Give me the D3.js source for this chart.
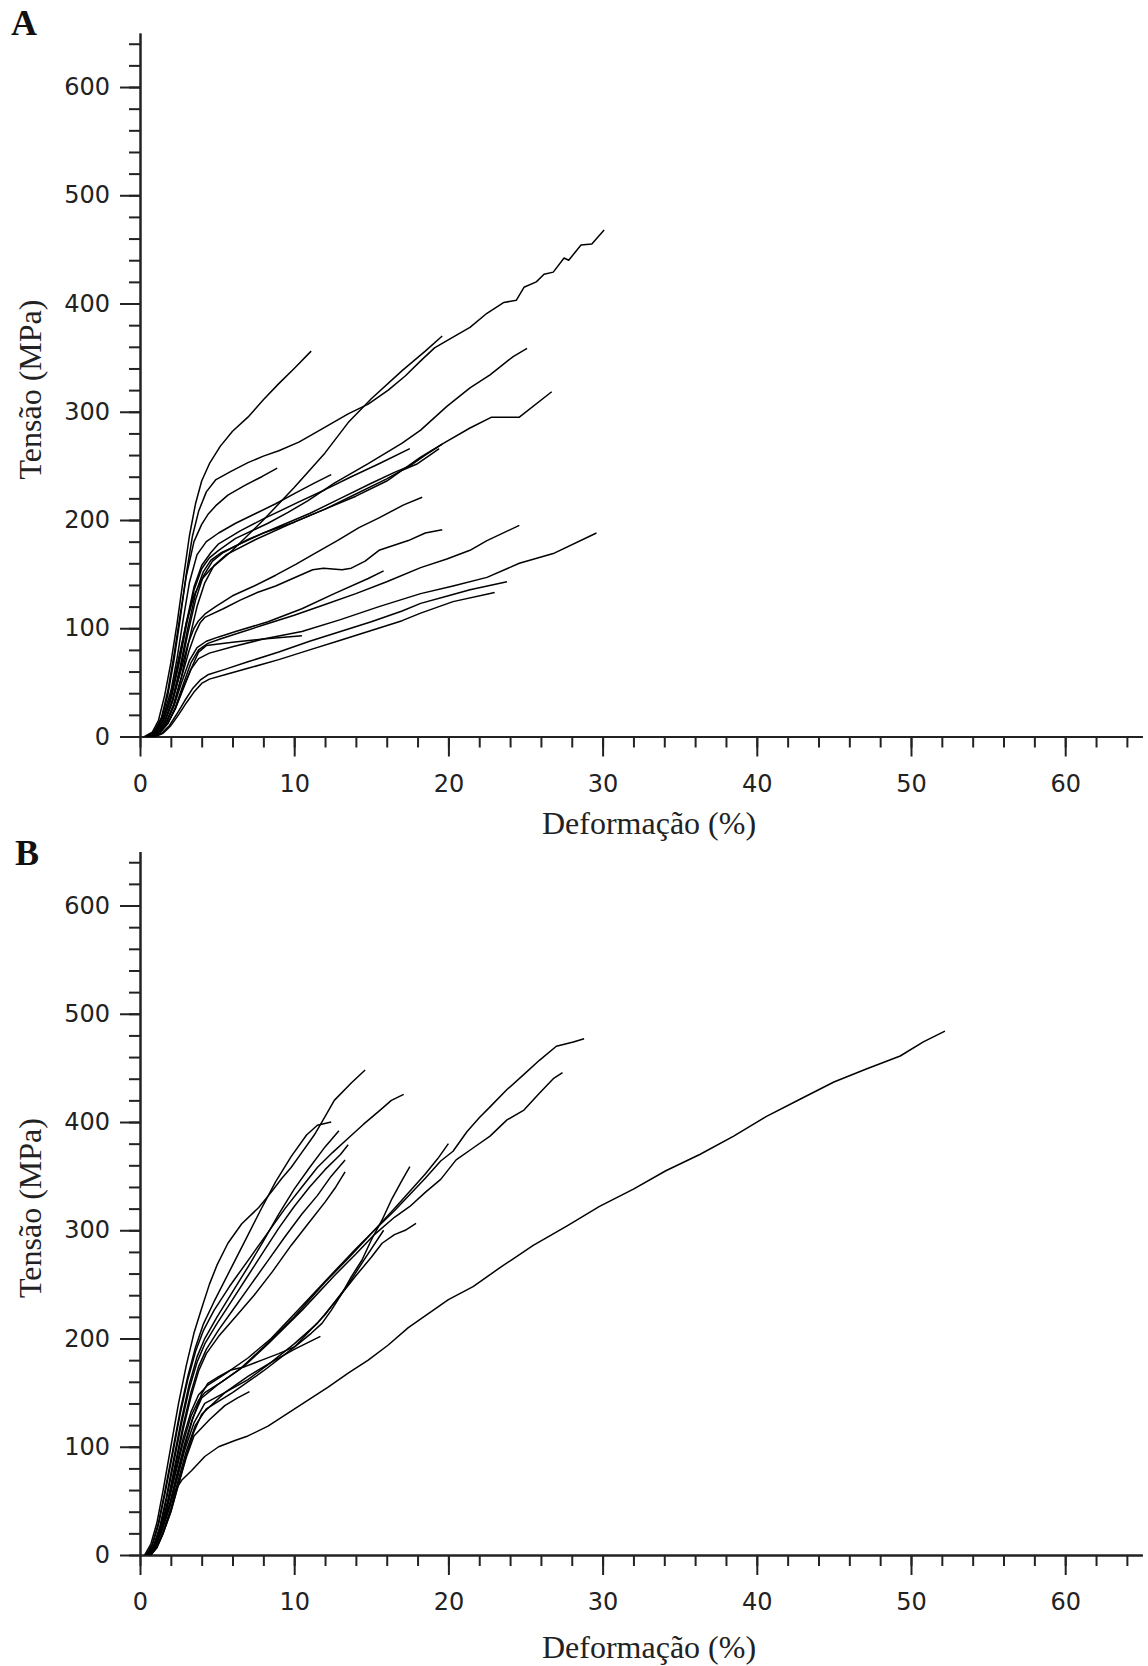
<!DOCTYPE html>
<html>
<head>
<meta charset="utf-8">
<script src="https://cdn.jsdelivr.net/npm/d3@7"></script>
<style>
  body { margin: 0; background: #fff; }
  svg { display: block; }
  .tick text { font-family: "DejaVu Sans", sans-serif; font-size: 24px; fill: #222; }
  .domain, .tick line { stroke: #222; stroke-width: 2; }
</style>
</head>
<body>
<div id="chart"></div>
<script>
// strain (%) , stress (MPa)
const curvesA = [
  [[0.3,0],[0.8,4],[1.2,15],[1.6,38],[2.0,68],[2.4,104],[2.8,145],[3.2,185],[3.6,215],[4.0,236],[4.5,252],[5.2,268],[6.0,282],[7.0,295],[8.0,311],[9.0,326],[10.0,340],[11.1,356]],
  [[0.4,0],[0.9,4],[1.4,16],[1.8,38],[2.2,70],[2.6,108],[3.0,150],[3.4,185],[3.8,208],[4.3,226],[4.9,237],[5.9,245],[7.0,253],[8.0,259],[9.0,264],[10.3,272],[11.3,280],[12.4,289],[13.5,298],[14.8,307],[16.1,320],[17.2,333],[18.2,347],[19.1,359],[20.3,369],[21.4,378],[22.5,391],[23.6,401],[24.4,403],[24.9,415],[25.7,420],[26.2,427],[26.8,429],[27.5,442],[27.8,440],[28.6,454],[29.3,455],[30.1,468]],
  [[0.5,0],[1.0,4],[1.5,15],[2.0,38],[2.5,72],[3.0,105],[3.5,130],[4.0,145],[4.6,155],[6.0,172],[8.0,200],[10.0,230],[12.0,262],[13.5,290],[15.0,312],[17.0,338],[18.5,356],[19.6,370]],
  [[0.4,0],[0.9,4],[1.4,18],[1.8,42],[2.2,75],[2.6,112],[3.0,148],[3.5,180],[4.0,196],[4.4,205],[4.9,213],[5.7,223],[6.8,232],[7.9,240],[8.9,248]],
  [[0.5,0],[1.0,5],[1.5,18],[2.0,42],[2.4,72],[2.8,108],[3.2,142],[3.7,168],[4.3,180],[5.1,188],[6.2,197],[7.5,206],[8.8,215],[10.1,225],[11.3,234],[12.4,242]],
  [[0.5,0],[1.0,4],[1.5,14],[2.0,34],[2.5,65],[3.0,102],[3.5,135],[4.0,155],[4.5,165],[5.1,172],[6.2,183],[8.3,197],[9.6,207],[10.9,218],[12.6,234],[14.8,252],[17.0,271],[18.2,283],[19.9,305],[21.4,322],[22.7,334],[24.2,351],[25.1,358.6]],
  [[0.6,0],[1.1,4],[1.6,14],[2.1,34],[2.6,64],[3.1,100],[3.6,132],[4.1,152],[4.6,163],[5.3,170],[6.5,178],[8.0,188],[10.0,198],[12.0,210],[14.0,222],[16.0,236],[18.2,258],[19.7,271],[21.4,285],[22.8,295],[24.6,295],[26.7,318.5]],
  [[0.5,0],[1.0,4],[1.5,15],[2.0,36],[2.5,68],[3.0,105],[3.5,138],[4.0,158],[4.6,170],[5.1,178],[6.5,190],[8.0,201],[10.2,216],[12.0,228],[13.7,240],[15.5,252],[17.5,266]],
  [[0.6,0],[1.1,4],[1.6,13],[2.1,32],[2.6,60],[3.1,95],[3.6,126],[4.1,148],[4.7,162],[5.4,170],[7.0,182],[9.0,194],[11.0,206],[13.0,220],[15.0,234],[16.5,244],[17.5,250],[18.5,260],[19.6,270]],
  [[0.7,0],[1.2,4],[1.7,13],[2.2,30],[2.7,56],[3.2,90],[3.7,120],[4.2,142],[4.8,158],[5.6,168],[7.5,182],[10.0,198],[12.0,210],[14.0,224],[16.0,238],[17.0,246],[18.0,252],[18.8,260],[19.4,266]],
  [[0.6,0],[1.1,4],[1.6,14],[2.1,32],[2.6,58],[3.1,85],[3.5,100],[3.8,107],[4.2,113],[4.9,120],[6.0,130],[7.4,139],[8.8,149],[10.1,159],[11.2,168],[12.8,181],[14.2,193],[15.5,202],[17.1,214],[18.3,221]],
  [[0.7,0],[1.2,4],[1.7,13],[2.2,30],[2.7,55],[3.2,80],[3.6,96],[3.9,105],[4.2,110],[5.4,118],[6.5,126],[7.6,133],[8.8,139],[9.9,146],[11.2,154],[11.9,155.5],[13.1,154],[13.7,155.5],[14.6,162],[15.5,172],[17.4,181],[18.5,188],[19.6,191]],
  [[0.7,0],[1.2,4],[1.7,12],[2.2,28],[2.7,50],[3.2,70],[3.7,82],[4.3,88],[5.1,92],[6.2,97],[8.3,106],[10.5,118],[12.6,132],[14.8,146],[15.8,153]],
  [[0.8,0],[1.3,4],[1.8,12],[2.3,27],[2.8,48],[3.3,68],[3.8,80],[4.4,86],[5.2,90],[6.5,96],[8.0,103],[10.0,112],[12.0,122],[14.0,132],[16.0,143],[18.2,156],[19.9,164],[21.4,172],[22.5,181],[24.6,195]],
  [[0.8,0],[1.3,4],[1.8,12],[2.3,26],[2.8,45],[3.3,62],[3.8,72],[4.5,77],[6.0,83],[8.0,90],[10.5,97],[13.0,108],[15.5,120],[18.2,132],[20.3,139],[22.5,147],[24.6,160],[26.8,169],[29.6,188]],
  [[0.8,0],[1.3,4],[1.8,12],[2.3,26],[2.8,44],[3.3,62],[3.8,78],[4.3,84],[6.0,87],[8.0,90],[10.5,93]],
  [[0.9,0],[1.4,3],[1.9,10],[2.4,21],[2.9,33],[3.4,44],[3.9,52],[4.4,57],[5.5,62],[7.0,69],[9.0,78],[11.0,88],[13.0,97],[15.0,106],[17.0,116],[18.2,123],[20.0,130],[21.4,135.6],[23.8,143]],
  [[1.0,0],[1.5,3],[2.0,10],[2.5,20],[3.0,31],[3.5,41],[4.0,49],[4.5,53],[5.5,57],[7.0,63],[9.0,71],[11.0,80],[13.0,89],[15.0,98],[17.0,107],[18.2,114],[20.3,124.6],[23.0,133]]
];

const curvesB = [
  [[0.3,0],[0.8,6],[1.3,20],[1.8,42],[2.3,60],[2.7,69],[3.35,78],[4.2,91],[5.1,100],[6.2,106],[7.0,110],[8.3,119],[9.6,131],[10.9,143],[12.2,155],[13.5,168],[14.8,180],[16.1,194],[17.4,210],[18.7,223],[20.0,236],[21.6,248],[23.3,265],[25.5,286],[27.7,304],[29.8,322],[32.0,338],[34.1,355],[36.3,370],[38.5,387],[40.6,405],[42.8,421],[45.0,437],[47.1,449],[49.3,461],[50.8,474],[52.2,484]],
  [[0.3,0],[0.7,10],[1.1,30],[1.5,60],[2.0,100],[2.5,140],[3.0,175],[3.5,205],[4.0,228],[4.5,250],[5.0,268],[5.7,288],[6.6,306],[7.7,321],[8.5,335],[9.2,348],[9.8,358],[10.5,372],[11.3,388],[12.0,405],[12.6,420],[13.7,436],[14.6,448]],
  [[0.4,0],[0.8,10],[1.2,30],[1.6,58],[2.1,95],[2.6,133],[3.1,165],[3.6,192],[4.1,213],[4.8,234],[5.8,262],[6.8,290],[7.8,318],[8.8,345],[9.8,368],[10.8,388],[11.5,397],[12.4,400]],
  [[0.4,0],[0.8,9],[1.2,28],[1.6,55],[2.1,92],[2.6,130],[3.1,162],[3.6,188],[4.1,207],[4.8,226],[5.8,248],[7.0,272],[8.2,296],[9.4,320],[10.5,340],[11.5,358],[12.5,372],[13.5,385],[14.5,398],[15.5,410],[16.3,420],[17.1,425.6]],
  [[0.5,0],[0.9,9],[1.3,27],[1.7,53],[2.2,90],[2.7,126],[3.2,158],[3.7,183],[4.2,200],[5.0,220],[6.0,243],[7.0,266],[8.0,290],[9.0,315],[10.0,338],[11.0,358],[12.0,377],[12.9,392]],
  [[0.5,0],[0.9,8],[1.3,25],[1.7,50],[2.2,86],[2.7,122],[3.2,154],[3.7,178],[4.2,195],[5.0,214],[6.0,236],[7.0,258],[8.0,280],[9.0,302],[10.0,322],[11.0,340],[12.0,356],[13.0,370],[13.5,379]],
  [[0.5,0],[1.0,9],[1.4,26],[1.8,50],[2.3,85],[2.8,120],[3.3,150],[3.8,174],[4.3,190],[5.1,208],[6.1,228],[7.2,250],[8.3,272],[9.4,294],[10.5,315],[11.5,332],[12.4,350],[13.3,365]],
  [[0.6,0],[1.0,8],[1.4,24],[1.8,48],[2.3,82],[2.8,116],[3.3,146],[3.8,170],[4.3,186],[5.1,202],[6.2,220],[7.4,240],[8.6,262],[9.8,286],[10.9,306],[12.0,326],[12.7,340],[13.3,354]],
  [[0.5,0],[0.9,8],[1.3,24],[1.8,48],[2.3,78],[2.8,108],[3.3,132],[3.8,148],[4.4,157],[5.5,167],[7.0,182],[8.5,200],[10.5,230],[12.6,262],[14.0,283],[15.2,300],[16.5,318],[17.5,333],[18.5,348],[19.5,364],[20.3,373],[21.2,391],[22.0,404],[22.7,414],[23.8,430],[24.9,444],[25.9,457],[27.0,470],[28.1,474],[28.8,477]],
  [[0.5,0],[0.9,8],[1.3,23],[1.8,46],[2.3,75],[2.8,104],[3.3,128],[3.8,143],[4.2,150],[5.3,160],[6.8,175],[8.3,195],[10.5,226],[12.6,258],[14.0,278],[15.2,296],[16.5,312],[17.5,322],[18.5,335],[19.5,347],[20.5,365],[21.6,376],[22.7,387],[23.8,402],[24.9,411],[25.9,426.5],[26.8,440],[27.4,445.6]],
  [[0.6,0],[1.0,8],[1.4,23],[1.9,46],[2.4,75],[2.9,103],[3.4,126],[4.0,145],[5.0,157],[6.5,172],[8.0,192],[10.0,220],[12.0,252],[13.5,274],[15.0,297],[16.5,320],[17.5,336],[18.5,352],[19.3,366],[20.0,380]],
  [[0.6,0],[1.0,8],[1.4,22],[1.9,44],[2.4,72],[2.9,100],[3.4,125],[4.0,149],[4.4,158.6],[5.1,164.7],[5.9,171],[6.8,174],[7.9,180],[9.0,186],[10.05,192.5],[11.1,204.8],[11.8,214],[12.4,226],[13.1,241.7],[13.7,257],[14.4,272.5],[15.0,291],[15.7,309.5],[16.3,328],[17.0,346.4],[17.5,358.7]],
  [[0.6,0],[1.0,8],[1.4,22],[1.9,43],[2.4,70],[2.9,97],[3.5,122],[4.2,140],[5.5,150],[7.0,162],[8.5,178],[10.0,195],[11.5,214],[13.0,240],[14.0,258],[15.0,275],[15.7,288],[16.5,296],[17.2,300],[17.9,306.4]],
  [[0.7,0],[1.1,8],[1.5,22],[2.0,43],[2.5,70],[3.0,96],[3.6,120],[4.3,135],[6.0,150],[8.0,170],[10.0,192],[12.0,222],[13.5,250],[14.5,272],[15.8,300]],
  [[0.7,0],[1.1,7],[1.5,20],[2.0,40],[2.5,66],[3.0,92],[3.5,114],[4.0,130],[5.5,150],[7.0,165],[8.5,178],[10.0,190],[11.7,202]],
  [[0.7,0],[1.1,7],[1.5,20],[2.0,40],[2.5,65],[3.0,90],[3.5,110],[4.5,125],[5.5,138],[6.3,145],[7.1,151]]
];

const xMajor = d3.range(0, 61, 10);
const xMinor = d3.range(0, 65, 2);
const yMajor = d3.range(0, 601, 100);
const yMinor = d3.range(0, 641, 20);

const width = 1148, height = 1666;
const svg = d3.select('#chart').append('svg')
  .attr('width', width)
  .attr('height', height)
  .style('background', '#fff');

const x = d3.scaleLinear().domain([0, 65]).range([140, 1142.3]);

const drawPanel = (curves, bottom, letter, letterPos, titleGap) => {
  const y = d3.scaleLinear().domain([0, 650]).range([bottom, bottom - 703.6]);

  // minor ticks first, then major with labels
  svg.append('g')
    .attr('transform', `translate(0,${bottom})`)
    .call(d3.axisBottom(x).tickValues(xMinor).tickSize(11).tickSizeOuter(0).tickFormat(''));
  svg.append('g')
    .attr('transform', `translate(0,${bottom})`)
    .call(d3.axisBottom(x).tickValues(xMajor).tickSize(20).tickSizeOuter(0).tickPadding(18));

  svg.append('g')
    .attr('transform', `translate(140,0)`)
    .call(d3.axisLeft(y).tickValues(yMinor).tickSize(11).tickSizeOuter(0).tickFormat(''));
  svg.append('g')
    .attr('transform', `translate(140,0)`)
    .call(d3.axisLeft(y).tickValues(yMajor).tickSize(20).tickSizeOuter(0).tickPadding(10));

  const line = d3.line().x(d => x(d[0])).y(d => y(d[1]));
  svg.append('g').selectAll('path')
    .data(curves)
    .enter()
    .append('path')
    .attr('d', line)
    .attr('fill', 'none')
    .attr('stroke', '#000')
    .attr('stroke-width', 1.5)
    .attr('stroke-linejoin', 'round');

  svg.append('text')
    .attr('x', 649).attr('y', bottom + titleGap)
    .attr('text-anchor', 'middle')
    .style('font-family', '"Liberation Serif", "Times New Roman", serif')
    .style('font-size', '32px')
    .attr('fill', '#222')
    .text('Deformação (%)');

  svg.append('text')
    .attr('transform', `translate(41,${bottom - 347}) rotate(-90)`)
    .attr('text-anchor', 'middle')
    .style('font-family', '"Liberation Serif", "Times New Roman", serif')
    .style('font-size', '32px')
    .attr('fill', '#222')
    .text('Tensão (MPa)');

  svg.append('text')
    .attr('x', letterPos[0]).attr('y', letterPos[1])
    .style('font-family', '"Liberation Serif", "Times New Roman", serif')
    .style('font-size', '36px')
    .style('font-weight', 'bold')
    .attr('fill', '#111')
    .text(letter);
};

drawPanel(curvesA, 736.5, 'A', [11, 35], 97);
drawPanel(curvesB, 1555, 'B', [15, 865], 103);
</script>
</body>
</html>
